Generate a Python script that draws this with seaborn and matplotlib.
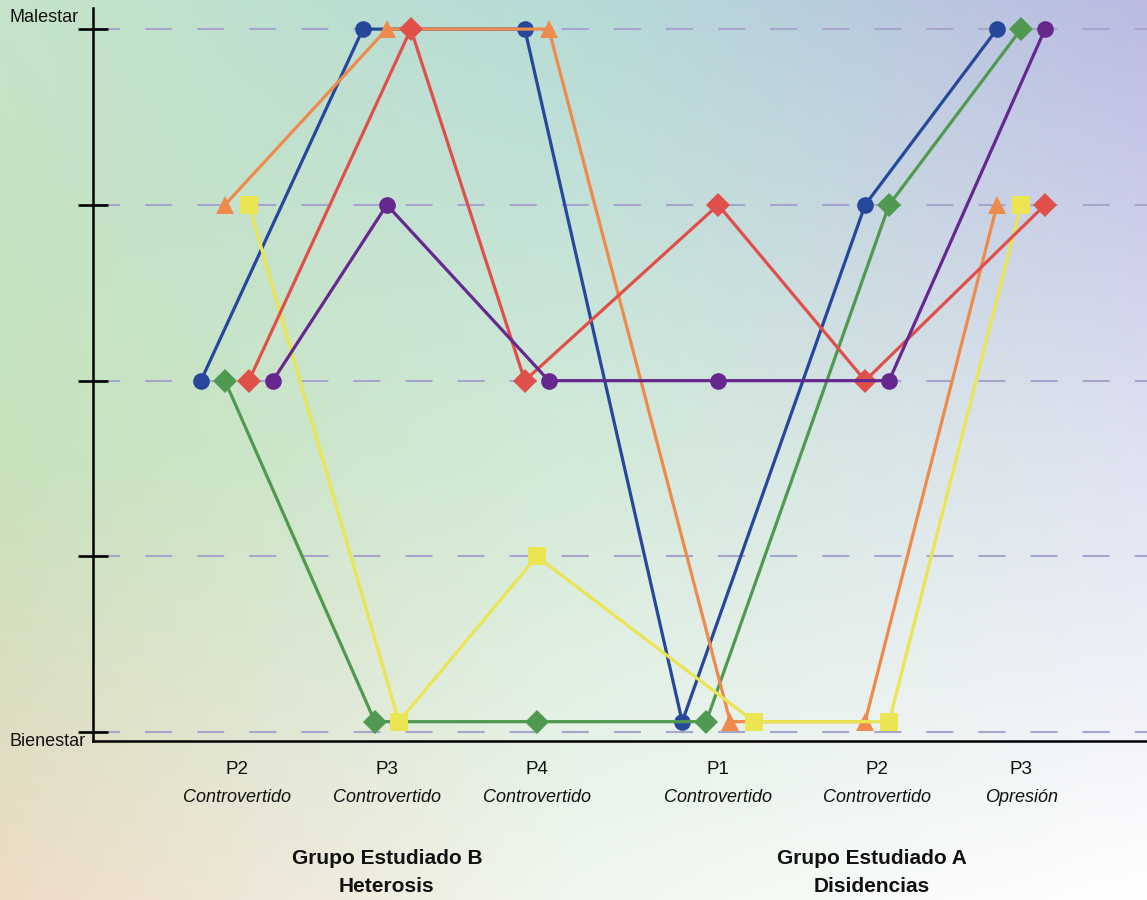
import numpy as np
import pandas as pd
import matplotlib
matplotlib.use("Agg")
import matplotlib.pyplot as plt
import matplotlib.transforms as mtransforms
import seaborn as sns

# ---------------- data ----------------
periods = ["P2", "P3", "P4", "P1", "P2", "P3"]
subtitles = ["Controvertido", "Controvertido", "Controvertido",
             "Controvertido", "Controvertido", "Opresión"]
group_titles = ["Grupo Estudiado B", "Grupo Estudiado A"]
group_subtitles = ["Heterosis", "Disidencias"]
group_of_period = [0, 0, 0, 1, 1, 1]
y_labels = ["Bienestar", "Malestar"]

series_names = ["blue", "green", "orange", "yellow", "red", "purple"]
blue_vals   = [2, 4, 4, 0.06, 3, 4]
green_vals  = [2, 0.06, 0.06, 0.06, 3, 4]
orange_vals = [3, 4, 4, 0.06, 0.06, 3]
yellow_vals = [3, 0.06, 1, 0.06, 0.06, 3]
red_vals    = [2, 4, 2, 3, 2, 3]
purple_vals = [2, 3, 2, 2, 2, 4]
all_vals = [blue_vals, green_vals, orange_vals, yellow_vals, red_vals, purple_vals]

# ---------------- style ----------------
colors = {"blue": "#27479a", "green": "#4f9950", "orange": "#ee8a4c",
          "yellow": "#ebe453", "red": "#e0504a", "purple": "#66288f"}
markers = {"blue": "o", "green": "D", "orange": "^", "yellow": "s",
           "red": "D", "purple": "o"}
msizes = {"o": 12, "D": 12, "^": 13, "s": 12.5}
cat_pos = np.array([0, 1, 2, 3.21, 4.27, 5.23])
step = 0.16

sns.set_theme(style="white")
plt.rcParams["font.family"] = ["Liberation Sans", "DejaVu Sans"]

W, H = 1147, 900
fig = plt.figure(figsize=(W / 100, H / 100), dpi=100)

# background gradient
bg = fig.add_axes([0, 0, 1, 1], zorder=-5)
ctrl = np.array([
    [[0xc5, 0xe4, 0xc8], [0xb6, 0xdb, 0xd8], [0xbb, 0xbb, 0xe2]],
    [[0xc6, 0xe2, 0xbc], [0xd2, 0xea, 0xd8], [0xdf, 0xe2, 0xf2]],
    [[0xee, 0xdb, 0xc5], [0xf0, 0xf7, 0xef], [0xff, 0xff, 0xff]],
], dtype=float) / 255.0
yy = np.linspace(0, 2, H)
xx = np.linspace(0, 2, W)
img = np.zeros((H, W, 3))
for c in range(3):
    tmp = np.array([np.interp(xx, [0, 1, 2], ctrl[r, :, c]) for r in range(3)])
    img[:, :, c] = np.array([np.interp(yy, [0, 1, 2], tmp[:, k]) for k in range(W)]).T
bg.imshow(img, extent=[0, 1, 0, 1], aspect="auto", origin="upper")
bg.set_axis_off()

ax = fig.add_axes([93 / W, 1 - 741 / H, 1 - 93 / W, (741 - 8) / H])
ax.set_facecolor("none")

# dodge points sharing the same value within a category
xpos = {n: np.zeros(len(periods)) for n in series_names}
for j in range(len(periods)):
    grp = {}
    for n, v in zip(series_names, all_vals):
        grp.setdefault(v[j], []).append(n)
    for v, members in grp.items():
        k = len(members)
        for i, n in enumerate(members):
            xpos[n][j] = cat_pos[j] + (i - (k - 1) / 2) * step

for n, v in zip(series_names, all_vals):
    df = pd.DataFrame({"x": xpos[n], "y": v})
    m = markers[n]
    sns.lineplot(data=df, x="x", y="y", ax=ax, sort=False, color=colors[n],
                 linewidth=2.3, marker=m, markersize=msizes[m],
                 markeredgewidth=0, estimator=None, zorder=3)

ax.set_xlim(-0.96, 6.07)
ax.set_ylim(-0.05, 4.12)
ax.set_yticks([0, 1, 2, 3, 4])
ax.set_yticklabels([])
ax.set_xticks([])
ax.set_xlabel("")
ax.set_ylabel("")
ax.tick_params(axis="y", direction="inout", length=21, width=1.9, color="black", left=True)
ax.yaxis.grid(True, color="#a8a5cc", linewidth=1.5, linestyle=(0, (13, 12)), zorder=0)
ax.set_axisbelow(True)
for s in ["top", "right"]:
    ax.spines[s].set_visible(False)
for s in ["left", "bottom"]:
    ax.spines[s].set_visible(True)
    ax.spines[s].set_color("black")
    ax.spines[s].set_linewidth(1.8)

# y end labels
fig.text(79 / W, 1 - 18 / H, y_labels[1], ha="right", va="center", fontsize=13, color="#111111")
fig.text(86 / W, 1 - 742 / H, y_labels[0], ha="right", va="center", fontsize=13, color="#111111")

# category labels
trans = mtransforms.blended_transform_factory(ax.transData, fig.transFigure)
for j, (p, s) in enumerate(zip(periods, subtitles)):
    ax.text(cat_pos[j], 1 - 770 / H, p, transform=trans, ha="center", va="center",
            fontsize=13.5, color="#111111")
    ax.text(cat_pos[j], 1 - 797 / H, s, transform=trans, ha="center", va="center",
            fontsize=13, style="italic", color="#111111")

for g in range(len(group_titles)):
    idx = [j for j in range(len(periods)) if group_of_period[j] == g]
    xc = np.mean(cat_pos[idx])
    ax.text(xc, 1 - 858 / H, group_titles[g], transform=trans, ha="center", va="center",
            fontsize=15, fontweight="bold", color="#111111")
    ax.text(xc, 1 - 887 / H, group_subtitles[g], transform=trans, ha="center", va="center",
            fontsize=15, fontweight="bold", color="#111111")

fig.savefig("out.png", dpi=100)
